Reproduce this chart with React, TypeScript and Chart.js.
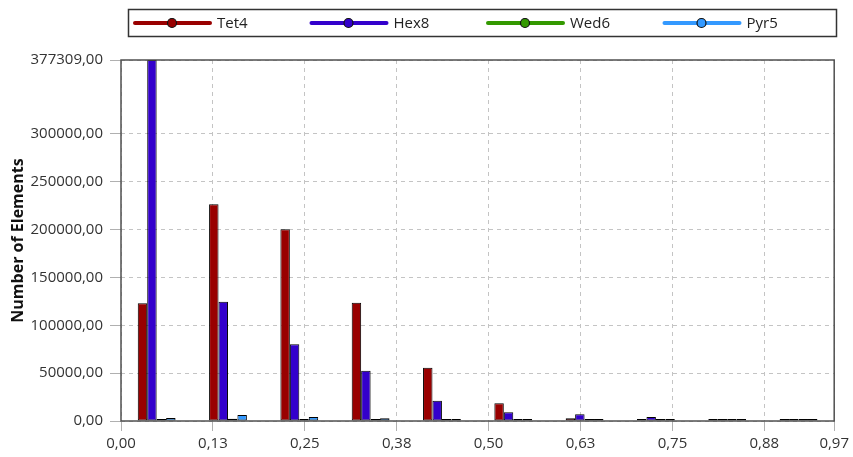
import { useEffect, useRef } from "react";
import { Chart, registerables } from "chart.js";

Chart.register(...registerables);

// ---- data ----
const bins = ["1", "2", "3", "4", "5", "6", "7", "8", "9", "10"];
const seriesNames = ["Tet4", "Hex8", "Wed6", "Pyr5"];
const tet4 = [123000, 226500, 200300, 123600, 55700, 18500, 3000, 700, 500, 500];
const hex8 = [377309, 124700, 80300, 52600, 21200, 9100, 7000, 4200, 500, 500];
const wed6 = [600, 2400, 600, 500, 500, 500, 500, 500, 500, 500];
const pyr5 = [3200, 6200, 4300, 2800, 600, 600, 500, 500, 500, 500];
const xTickValues = [0, 0.125, 0.25, 0.375, 0.5, 0.625, 0.75, 0.875, 0.97];
const xTickLabels = ["0,00", "0,13", "0,25", "0,38", "0,50", "0,63", "0,75", "0,88", "0,97"];
const yTickValues = [0, 50000, 100000, 150000, 200000, 250000, 300000, 377309];
const yTickLabels = [
  "0,00",
  "50000,00",
  "100000,00",
  "150000,00",
  "200000,00",
  "250000,00",
  "300000,00",
  "377309,00",
];
const xMin = 0;
const xMax = 0.97;
const yMax = 377309;
const yTitle = "Number of Elements";

// ---- styles ----
const colors = ["#990000", "#3300cc", "#339900", "#3399ff"];
const FONT = "'Open Sans', 'DejaVu Sans', sans-serif";

const legendPlugin = {
  id: "boxLegend",
  afterDraw(chart: any) {
    const ctx = chart.ctx as CanvasRenderingContext2D;
    ctx.save();
    ctx.strokeStyle = "#333";
    ctx.lineWidth = 1.5;
    ctx.strokeRect(128.5, 9.5, 708, 27);
    chart.data.datasets.forEach((ds: any, i: number) => {
      const x0 = 135 + i * 176.5;
      const y = 23;
      ctx.strokeStyle = colors[i];
      ctx.lineWidth = 4;
      ctx.lineCap = "round";
      ctx.beginPath();
      ctx.moveTo(x0, y);
      ctx.lineTo(x0 + 75, y);
      ctx.stroke();
      ctx.beginPath();
      ctx.arc(x0 + 37, y, 4.5, 0, Math.PI * 2);
      ctx.fillStyle = colors[i];
      ctx.fill();
      ctx.lineWidth = 1.2;
      ctx.strokeStyle = "#111";
      ctx.stroke();
      ctx.fillStyle = "#222";
      ctx.font = `15px ${FONT}`;
      ctx.textBaseline = "middle";
      ctx.textAlign = "left";
      ctx.fillText(ds.label, x0 + 82, y + 1);
    });
    ctx.restore();
  },
};

const borderPlugin = {
  id: "areaBorder",
  afterDatasetsDraw(chart: any) {
    const { ctx, chartArea } = chart;
    ctx.save();
    ctx.strokeStyle = "#505050";
    ctx.lineWidth = 1.5;
    ctx.strokeRect(chartArea.left, chartArea.top, chartArea.right - chartArea.left, chartArea.bottom - chartArea.top);
    ctx.restore();
  },
};

export default function App() {
  const canvasRef = useRef<HTMLCanvasElement | null>(null);

  useEffect(() => {
    document.body.style.margin = "0";
    const canvas = canvasRef.current;
    if (!canvas) return;
    const seriesData = [tet4, hex8, wed6, pyr5];
    const chart = new Chart(canvas, {
      type: "bar",
      data: {
        labels: bins,
        datasets: seriesNames.map((name, i) => ({
          label: name,
          data: seriesData[i],
          backgroundColor: colors[i],
          borderColor: "#000",
          borderWidth: 1,
          borderSkipped: false,
          minBarLength: 2,
          categoryPercentage: 0.53,
          barPercentage: 1,
          xAxisID: "x",
          yAxisID: "y",
        })),
      },
      options: {
        animation: false,
        responsive: false,
        devicePixelRatio: 1,
        layout: { padding: { top: 60, right: 16, left: 0, bottom: 0 } },
        plugins: {
          legend: { display: false },
          tooltip: { enabled: false },
        },
        scales: {
          x: {
            type: "category",
            display: false,
            offset: true,
            grid: { display: false },
          },
          x2: {
            type: "linear",
            position: "bottom",
            min: xMin,
            max: xMax,
            offset: false,
            afterBuildTicks: (s: any) => {
              s.ticks = xTickValues.map((v) => ({ value: v }));
            },
            afterFit: (s: any) => {
              s.height = 36;
            },
            ticks: {
              autoSkip: false,
              maxRotation: 0,
              padding: 4,
              color: "#333",
              font: { family: FONT, size: 15 },
              callback: (_v: any, i: number) => xTickLabels[i],
            },
            grid: {
              offset: false,
              color: "#c4c4c4",
              lineWidth: 1,
              tickLength: 10,
              tickColor: "#b0b0b0",
              tickBorderDash: [],
            },
            border: { display: false, dash: [4, 4] },
          },
          y: {
            type: "linear",
            min: 0,
            max: yMax,
            afterBuildTicks: (s: any) => {
              s.ticks = yTickValues.map((v) => ({ value: v }));
            },
            afterFit: (s: any) => {
              s.width = 121;
            },
            ticks: {
              autoSkip: false,
              padding: 7,
              color: "#333",
              font: { family: FONT, size: 15 },
              callback: (_v: any, i: number) => yTickLabels[i],
            },
            grid: {
              color: "#c4c4c4",
              lineWidth: 1,
              tickLength: 11,
              tickColor: "#b0b0b0",
              tickBorderDash: [],
            },
            border: { display: false, dash: [4, 4] },
            title: {
              display: true,
              text: yTitle,
              color: "#111",
              font: { family: FONT, size: 16, weight: "bold" },
              padding: { top: 9, bottom: 0 },
            },
          },
        },
      },
      plugins: [legendPlugin, borderPlugin],
    } as any);
    return () => chart.destroy();
  }, []);

  return (
    <div style={{ width: 853, height: 457, background: "#fff" }}>
      <canvas ref={canvasRef} width={853} height={457} />
    </div>
  );
}
